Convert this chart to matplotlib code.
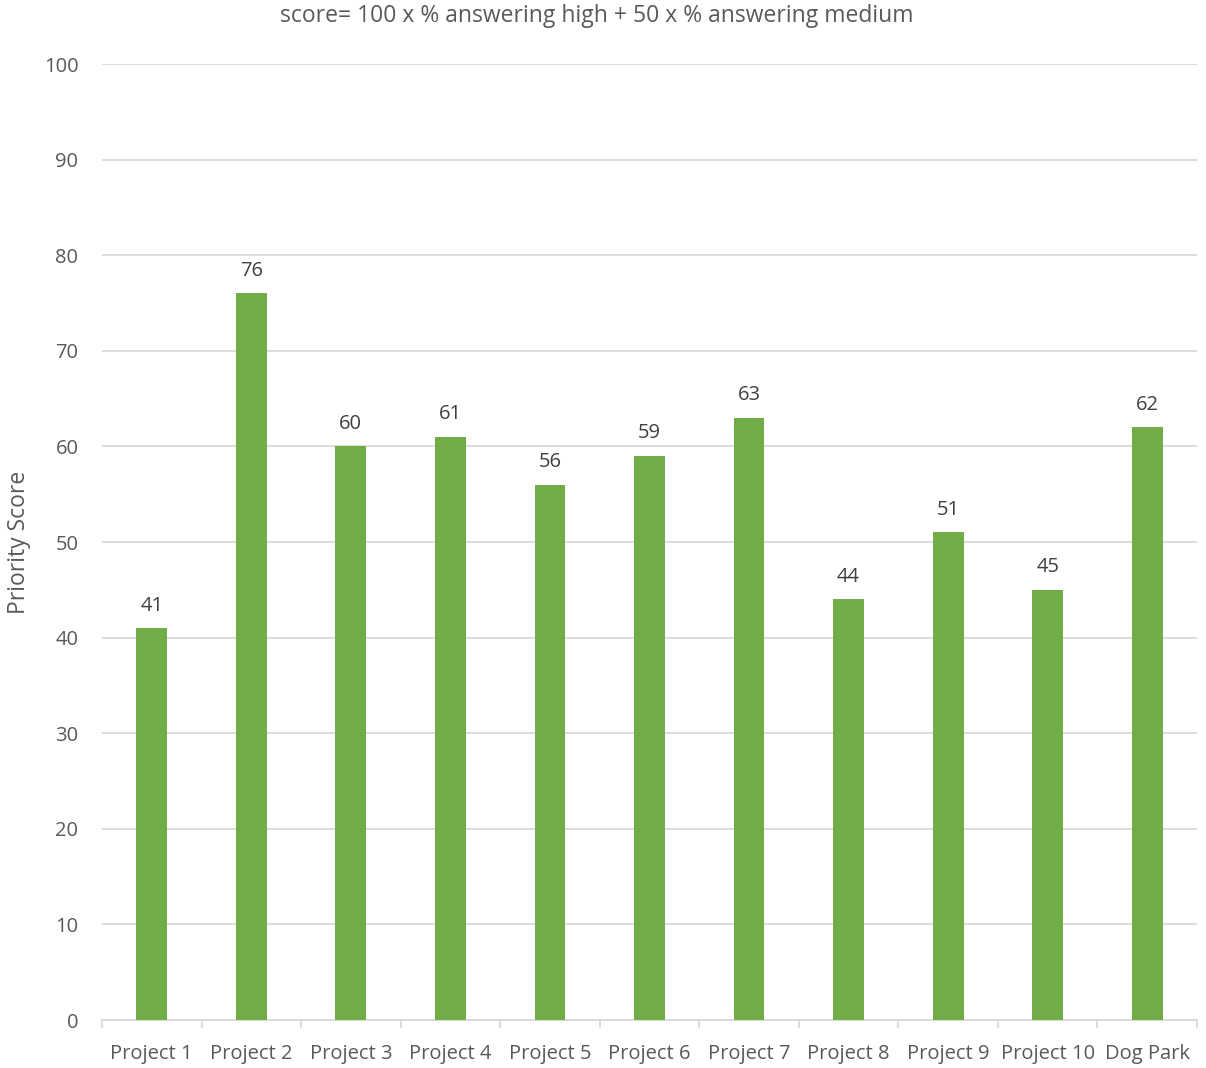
import matplotlib
matplotlib.use("Agg")
import matplotlib.pyplot as plt
import numpy as np

categories = ["Project 1", "Project 2", "Project 3", "Project 4", "Project 5", "Project 6",
              "Project 7", "Project 8", "Project 9", "Project 10", "Dog Park"]
scores = [41, 76, 60, 61, 56, 59, 63, 44, 51, 45, 62]
yticks = [0, 10, 20, 30, 40, 50, 60, 70, 80, 90, 100]
title = "score= 100 x % answering high + 50 x % answering medium"
ylabel = "Priority Score"

plt.rcParams['font.family'] = ['Open Sans', 'DejaVu Sans']
text_color = "#595959"
bar_color = "#70AD47"
grid_color = "#D9D9D9"
fs = 14.5

fig = plt.figure(figsize=(12.06, 10.68), dpi=100)
ax = fig.add_axes([102/1206, 48/1068, (1197-102)/1206, (1020-64)/1068])

x = np.arange(len(categories))
ax.bar(x, scores, width=0.31, color=bar_color, zorder=3)
for xi, v in zip(x, scores):
    ax.annotate(str(v), (xi, v), xytext=(0, 9), textcoords="offset points",
                ha="center", va="bottom", fontsize=fs, color="#404040")

ax.set_xlim(-0.5, len(categories) - 0.5)
ax.set_ylim(0, 100)
ax.set_yticks(yticks)
ax.set_yticklabels([str(t) for t in yticks], fontsize=fs, color=text_color)
ax.yaxis.grid(True, color=grid_color, linewidth=1.3, zorder=0)
ax.tick_params(axis="y", length=0, pad=17)

ax.set_xticks(x)
ax.set_xticklabels(categories, fontsize=fs, color=text_color)
ax.set_xticks(np.arange(-0.5, len(categories)), minor=True)
ax.tick_params(axis="x", which="major", length=0, pad=17)
ax.tick_params(axis="x", which="minor", length=6, color=grid_color, width=1.3)

for s in ["top", "right", "left"]:
    ax.spines[s].set_visible(False)
ax.spines["bottom"].set_color(grid_color)
ax.spines["bottom"].set_linewidth(1.3)

ax.set_ylabel(ylabel, fontsize=16.5, color=text_color, labelpad=9)
fig.text(597/1206, 1 - 16/1068, title, ha="center", va="center", fontsize=16.5, color=text_color)

fig.savefig("out.png", dpi=100)
